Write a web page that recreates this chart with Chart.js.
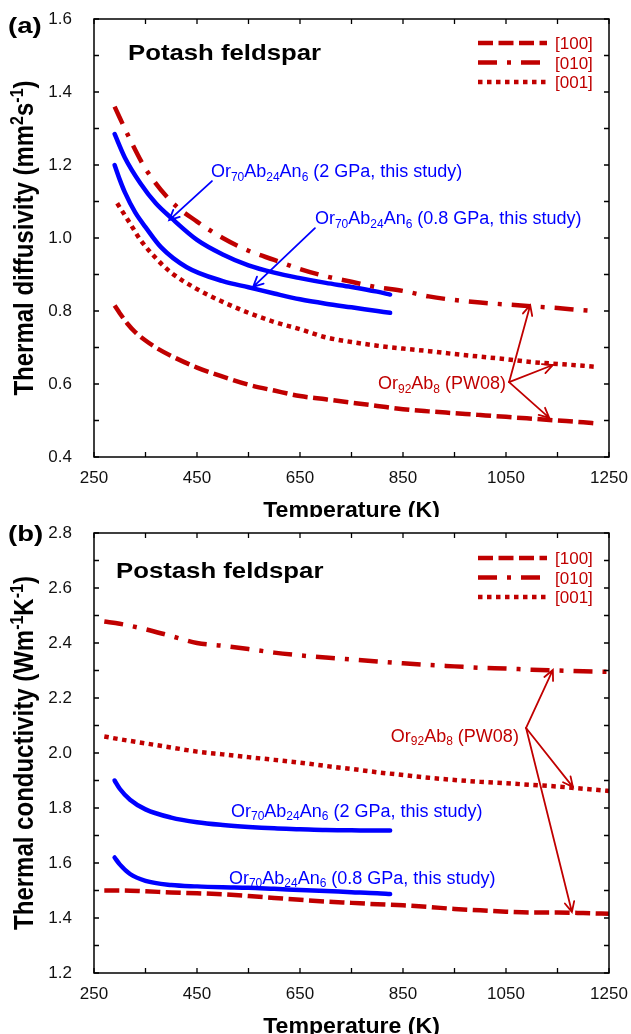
<!DOCTYPE html>
<html>
<head>
<meta charset="utf-8">
<script src="https://cdn.jsdelivr.net/npm/chart.js@4.4.1/dist/chart.umd.min.js"></script>
<style>
  html, body { margin: 0; padding: 0; background: #fff; }
  .panel { width: 631px; height: 517px; position: relative; }
</style>
</head>
<body>
<div class="panel"><canvas id="chartA" width="631" height="517"></canvas></div>
<div class="panel"><canvas id="chartB" width="631" height="517"></canvas></div>
<script>
// (a) thermal diffusivity, mm2/s
const tempA100 = [290, 300, 315, 330, 350, 370, 400, 450, 500, 550, 600, 650, 700, 750, 800, 850, 900, 950, 1000, 1050, 1100, 1150, 1200, 1225];
const diffA100 = [0.815, 0.794, 0.765, 0.742, 0.719, 0.70, 0.677, 0.645, 0.62, 0.598, 0.582, 0.567, 0.558, 0.549, 0.54, 0.531, 0.525, 0.52, 0.515, 0.51, 0.505, 0.50, 0.495, 0.492];
const tempA010 = [290, 320, 350, 400, 450, 500, 550, 600, 650, 700, 750, 800, 850, 900, 950, 1000, 1050, 1100, 1150, 1200, 1220];
const diffA010 = [1.36, 1.27, 1.19, 1.10, 1.045, 1.00, 0.965, 0.94, 0.915, 0.895, 0.88, 0.865, 0.855, 0.84, 0.83, 0.823, 0.818, 0.813, 0.808, 0.802, 0.80];
const tempA001 = [295, 320, 340, 370, 400, 450, 500, 550, 600, 650, 700, 750, 800, 850, 900, 950, 1000, 1050, 1100, 1150, 1200, 1225];
const diffA001 = [1.095, 1.04, 0.995, 0.945, 0.905, 0.86, 0.825, 0.795, 0.77, 0.75, 0.728, 0.715, 0.705, 0.697, 0.69, 0.682, 0.675, 0.668, 0.66, 0.655, 0.65, 0.647];
const tempA2GPa = [290, 310, 340, 370, 400, 450, 500, 550, 600, 650, 700, 750, 800, 825];
const diffA2GPa = [1.285, 1.22, 1.15, 1.095, 1.055, 0.995, 0.955, 0.925, 0.905, 0.89, 0.877, 0.866, 0.853, 0.845];
const tempA08GPa = [290, 300, 310, 330, 350, 380, 430, 500, 550, 600, 650, 700, 750, 800, 825];
const diffA08GPa = [1.20, 1.16, 1.125, 1.07, 1.03, 0.975, 0.92, 0.882, 0.865, 0.848, 0.832, 0.82, 0.81, 0.80, 0.795];

// (b) thermal conductivity, W/m/K
const tempB = [270, 300, 350, 400, 450, 500, 550, 600, 650, 700, 750, 800, 850, 900, 950, 1000, 1050, 1100, 1150, 1200, 1250];
const condB100 = [1.50, 1.50, 1.497, 1.493, 1.49, 1.486, 1.48, 1.473, 1.466, 1.46, 1.455, 1.45, 1.446, 1.44, 1.433, 1.428, 1.423, 1.42, 1.42, 1.418, 1.415];
const condB010 = [2.478, 2.47, 2.45, 2.425, 2.40, 2.39, 2.378, 2.365, 2.355, 2.347, 2.34, 2.333, 2.326, 2.32, 2.315, 2.31, 2.307, 2.303, 2.30, 2.297, 2.295];
const condB001 = [2.06, 2.05, 2.035, 2.02, 2.005, 1.995, 1.985, 1.975, 1.965, 1.953, 1.942, 1.93, 1.92, 1.91, 1.902, 1.895, 1.89, 1.884, 1.878, 1.87, 1.862];
const tempBStudy = [290, 300, 320, 350, 400, 450, 500, 550, 600, 650, 700, 750, 800, 825];
const condB2GPa = [1.90, 1.87, 1.83, 1.795, 1.765, 1.748, 1.738, 1.731, 1.726, 1.723, 1.72, 1.719, 1.718, 1.718];
const condB08GPa = [1.62, 1.595, 1.56, 1.535, 1.52, 1.515, 1.512, 1.51, 1.506, 1.502, 1.498, 1.494, 1.49, 1.487];

const RED = '#c00000';
const BLUE = '#0000ff';
const FONT = '"Liberation Sans", Arial, Helvetica, sans-serif';
const DASH = [15, 5.5];
const DASHDOT = [19, 10, 4, 10];
const DOT = [4.5, 4.5];

function pts(xs, ys) {
  return xs.map((x, i) => ({ x: x, y: ys[i] }));
}

function redSet(label, xs, ys, dash) {
  return {
    label: label, data: pts(xs, ys), legendItem: true,
    borderColor: RED, borderWidth: 4.5, borderDash: dash, borderCapStyle: 'butt',
    pointRadius: 0, cubicInterpolationMode: 'monotone', fill: false
  };
}

function blueSet(label, xs, ys) {
  return {
    label: label, data: pts(xs, ys),
    borderColor: BLUE, borderWidth: 4.5, borderCapStyle: 'round',
    pointRadius: 0, cubicInterpolationMode: 'monotone', fill: false
  };
}

// text with sub / superscripts; y is the middle of the capitals
function drawRich(ctx, parts, x, y, o) {
  const size = o.size;
  const small = Math.round(size * 0.66);
  const w8 = o.bold ? 'bold ' : '';
  const font = s => w8 + s + 'px ' + FONT;
  let w = 0;
  parts.forEach(p => { ctx.font = font(p[1] ? small : size); w += ctx.measureText(p[0]).width; });
  ctx.save();
  ctx.translate(x, y);
  if (o.rotate) ctx.rotate(o.rotate);
  ctx.scale(o.sx || 1, o.sy || 1);
  let cx = o.align === 'center' ? -w / 2 : (o.align === 'right' ? -w : 0);
  ctx.fillStyle = o.color || '#000';
  ctx.textBaseline = 'alphabetic';
  ctx.textAlign = 'left';
  parts.forEach(p => {
    ctx.font = font(p[1] ? small : size);
    const dy = p[1] === 'sub' ? size * 0.2 : (p[1] === 'sup' ? -size * 0.36 : 0);
    ctx.fillText(p[0], cx, size * 0.36 + dy);
    cx += ctx.measureText(p[0]).width;
  });
  ctx.restore();
}

function drawArrow(ctx, x1, y1, x2, y2, color) {
  const ang = Math.atan2(y2 - y1, x2 - x1);
  const len = 11, spread = 0.45;
  ctx.save();
  ctx.strokeStyle = color;
  ctx.lineWidth = 1.8;
  ctx.setLineDash([]);
  ctx.lineCap = 'round';
  ctx.beginPath();
  ctx.moveTo(x1, y1);
  ctx.lineTo(x2, y2);
  ctx.moveTo(x2 - len * Math.cos(ang - spread), y2 - len * Math.sin(ang - spread));
  ctx.lineTo(x2, y2);
  ctx.lineTo(x2 - len * Math.cos(ang + spread), y2 - len * Math.sin(ang + spread));
  ctx.stroke();
  ctx.restore();
}

const studyParts = p => [['Or'], ['70', 'sub'], ['Ab'], ['24', 'sub'], ['An'], ['6', 'sub'], [' (' + p + ' GPa, this study)']];
const pw08Parts = [['Or'], ['92', 'sub'], ['Ab'], ['8', 'sub'], [' (PW08)']];

const decoPlugin = {
  id: 'deco',
  afterDatasetsDraw(chart, args, o) {
    const ctx = chart.ctx;
    const a = chart.chartArea;
    const sx = chart.scales.x, sy = chart.scales.y;
    ctx.save();
    ctx.setLineDash([]);
    ctx.strokeStyle = '#000';
    ctx.lineWidth = 1.5;
    ctx.strokeRect(a.left, a.top, a.right - a.left, a.bottom - a.top);
    // inward ticks on all four sides
    ctx.lineWidth = 1.3;
    ctx.beginPath();
    sx.ticks.forEach(t => {
      const px = sx.getPixelForValue(t.value);
      ctx.moveTo(px, a.bottom); ctx.lineTo(px, a.bottom - 5);
      ctx.moveTo(px, a.top); ctx.lineTo(px, a.top + 5);
    });
    sy.ticks.forEach(t => {
      const py = sy.getPixelForValue(t.value);
      ctx.moveTo(a.left, py); ctx.lineTo(a.left + 5, py);
      ctx.moveTo(a.right, py); ctx.lineTo(a.right - 5, py);
    });
    ctx.stroke();

    // legend of the red PW08 curves
    chart.data.datasets.filter(d => d.legendItem).forEach((d, i) => {
      const ly = a.top + o.legendTop + i * 19.5;
      ctx.save();
      ctx.strokeStyle = d.borderColor;
      ctx.lineWidth = d.borderWidth;
      ctx.setLineDash(d.borderDash);
      ctx.beginPath();
      ctx.moveTo(a.left + 384, ly);
      ctx.lineTo(a.left + 453, ly);
      ctx.stroke();
      ctx.restore();
      drawRich(ctx, [[d.label]], a.left + 461, ly, { size: 17, color: RED });
    });

    // panel tag, title, axis titles
    drawRich(ctx, [[o.tag[0]]], o.tag[1], o.tag[2], { size: 22, bold: true, sx: 1.25 });
    drawRich(ctx, [[o.title]], a.left + o.titlePos[0], a.top + o.titlePos[1], { size: 22, bold: true, sx: 1.17 });
    drawRich(ctx, [['Temperature (K)']], (a.left + a.right) / 2, a.bottom + 52, { size: 22, bold: true, sx: 1.05, align: 'center' });
    drawRich(ctx, o.yTitle, 23, (a.top + a.bottom) / 2, { size: 24, bold: true, sy: 1.15, rotate: -Math.PI / 2, align: 'center' });

    // curve labels and arrows, placed in data coordinates
    o.labels.forEach(l => {
      drawRich(ctx, l.parts, sx.getPixelForValue(l.at[0]), sy.getPixelForValue(l.at[1]), { size: 18, color: l.color, align: l.align });
    });
    o.arrows.forEach(r => {
      drawArrow(ctx, sx.getPixelForValue(r.from[0]), sy.getPixelForValue(r.from[1]),
        sx.getPixelForValue(r.to[0]), sy.getPixelForValue(r.to[1]), r.color);
    });
    ctx.restore();
  }
};

function makeChart(id, datasets, yMin, yMax, top, xHeight, deco) {
  return new Chart(document.getElementById(id), {
    type: 'line',
    data: { datasets: datasets },
    options: {
      responsive: false,
      animation: false,
      devicePixelRatio: 1,
      layout: { padding: { left: 0, right: 22, top: top, bottom: 0 } },
      plugins: { legend: { display: false }, tooltip: { enabled: false }, deco: deco },
      scales: {
        x: {
          type: 'linear', min: 250, max: 1250,
          grid: { display: false, drawTicks: false }, border: { display: false },
          afterFit: s => { s.height = xHeight; s.paddingLeft = 0; s.paddingRight = 0; },
          ticks: {
            stepSize: 100, autoSkip: false, maxRotation: 0, padding: 11,
            font: { family: FONT, size: 17 }, color: '#111',
            callback: v => (Math.round(v - 250) % 200 === 0 ? String(v) : '')
          }
        },
        y: {
          min: yMin, max: yMax,
          grid: { display: false, drawTicks: false }, border: { display: false },
          afterFit: s => { s.width = 94; s.paddingTop = 0; s.paddingBottom = 0; },
          ticks: {
            stepSize: 0.1, autoSkip: false, maxTicksLimit: 100, padding: 22,
            font: { family: FONT, size: 17 }, color: '#111',
            callback: v => (Math.round(v * 10) % 2 === 0 ? v.toFixed(1) : '')
          }
        }
      }
    },
    plugins: [decoPlugin]
  });
}

makeChart('chartA', [
  redSet('[100]', tempA100, diffA100, DASH),
  redSet('[010]', tempA010, diffA010, DASHDOT),
  redSet('[001]', tempA001, diffA001, DOT),
  blueSet('2 GPa', tempA2GPa, diffA2GPa),
  blueSet('0.8 GPa', tempA08GPa, diffA08GPa)
], 0.4, 1.6, 19, 60, {
  tag: ['(a)', 8, 25],
  title: 'Potash feldspar', titlePos: [34, 33], legendTop: 24,
  yTitle: [['Thermal diffusivity (mm'], ['2', 'sup'], ['s'], ['-1', 'sup'], [')']],
  labels: [
    { parts: studyParts('2'), at: [477, 1.184], color: BLUE },
    { parts: studyParts('0.8'), at: [679, 1.055], color: BLUE },
    { parts: pw08Parts, at: [1050, 0.603], color: RED, align: 'right' }
  ],
  arrows: [
    { from: [479, 1.156], to: [396, 1.049], color: BLUE },
    { from: [679, 1.027], to: [559, 0.866], color: BLUE },
    { from: [1056, 0.605], to: [1097, 0.816], color: RED },
    { from: [1056, 0.605], to: [1141, 0.652], color: RED },
    { from: [1056, 0.605], to: [1134, 0.507], color: RED }
  ]
});

makeChart('chartB', [
  redSet('[100]', tempB, condB100, DASH),
  redSet('[010]', tempB, condB010, DASHDOT),
  redSet('[001]', tempB, condB001, DOT),
  blueSet('2 GPa', tempBStudy, condB2GPa),
  blueSet('0.8 GPa', tempBStudy, condB08GPa)
], 1.2, 2.8, 16, 61, {
  tag: ['(b)', 8, 16],
  title: 'Postash feldspar', titlePos: [22, 37], legendTop: 25,
  yTitle: [['Thermal conductivity (Wm'], ['-1', 'sup'], ['K'], ['-1', 'sup'], [')']],
  labels: [
    { parts: studyParts('2'), at: [516, 1.792], color: BLUE },
    { parts: studyParts('0.8'), at: [512, 1.549], color: BLUE },
    { parts: pw08Parts, at: [1075, 2.065], color: RED, align: 'right' }
  ],
  arrows: [
    { from: [1089, 2.091], to: [1141, 2.302], color: RED },
    { from: [1089, 2.091], to: [1180, 1.876], color: RED },
    { from: [1089, 2.091], to: [1178, 1.422], color: RED }
  ]
});
</script>
</body>
</html>
